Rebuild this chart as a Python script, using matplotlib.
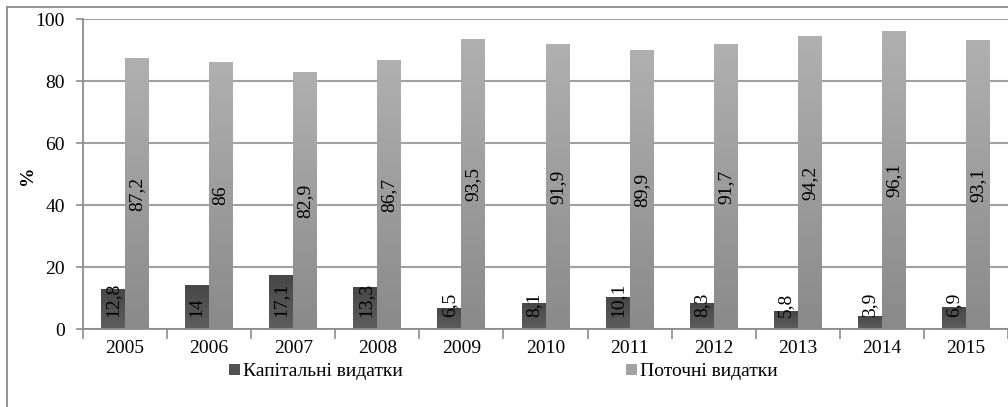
import numpy as np
import matplotlib
matplotlib.use("Agg")
import matplotlib.pyplot as plt
from matplotlib.patches import Patch
from matplotlib.lines import Line2D
from matplotlib.colors import LinearSegmentedColormap

plt.rcParams['font.family'] = ['Liberation Serif', 'DejaVu Serif']

# data
years = ['2005', '2006', '2007', '2008', '2009', '2010',
         '2011', '2012', '2013', '2014', '2015']
capital = [12.8, 14, 17.1, 13.3, 6.5, 8.1, 10.1, 8.3, 5.8, 3.9, 6.9]
current = [87.2, 86, 82.9, 86.7, 93.5, 91.9, 89.9, 91.7, 94.2, 96.1, 93.1]
series_names = ['Капітальні видатки', 'Поточні видатки']


def fmt(v):
    s = ('%g' % v)
    return s.replace('.', ',')


W, H = 1008, 407
fig = plt.figure(figsize=(W / 100, H / 100), dpi=100)

# outer chart frame (cut off on right and bottom)
fig.add_artist(Line2D([7 / W, 7 / W], [0, 1 - 7 / H], color='#8c8c8c', lw=1.3))
fig.add_artist(Line2D([7 / W, 1], [1 - 7 / H, 1 - 7 / H], color='#8c8c8c', lw=1.3))

left, right, top, bottom = 83, 1008, 19, 329
ax = fig.add_axes([left / W, 1 - bottom / H, (right - left) / W, (bottom - top) / H])

x = np.arange(len(years))
bw = 0.285
cap_bars = ax.bar(x - bw / 2, capital, bw, color='#505050', zorder=2)
cur_bars = ax.bar(x + bw / 2, current, bw, color='#9c9c9c', zorder=2)

# vertical gradient fill on each bar
cmap_cap = LinearSegmentedColormap.from_list('cap', ['#5e5e5e', '#474747'])
cmap_cur = LinearSegmentedColormap.from_list('cur', ['#8a8a8a', '#b0b0b0'])
grad = np.linspace(0, 1, 256).reshape(-1, 1)
for bars, cmap in ((cap_bars, cmap_cap), (cur_bars, cmap_cur)):
    for p in bars:
        bx, by = p.get_x(), p.get_y()
        ax.imshow(grad, cmap=cmap, aspect='auto', origin='lower',
                  extent=(bx, bx + p.get_width(), by, by + p.get_height()),
                  zorder=2.5, interpolation='bilinear')

# data labels
for i in range(len(years)):
    ax.text(x[i] - bw / 2, 3.8, fmt(capital[i]), rotation=90,
            ha='center', va='bottom', fontsize=14, zorder=4)
    ax.text(x[i] + bw / 2, current[i] / 2, fmt(current[i]), rotation=90,
            ha='center', va='center', fontsize=14, zorder=4)

ncat = (right - left) / 85.3
ax.set_xlim(-0.5, -0.5 + ncat)
ax.set_ylim(0, 100)

ax.set_yticks(np.arange(0, 101, 20))
ax.yaxis.grid(True, color='#a0a0a0', lw=1.5)
ax.set_axisbelow(True)
ax.tick_params(axis='y', length=5, width=1.2, color='#8c8c8c', labelsize=14, pad=8)

ax.set_xticks(np.arange(len(years) + 1) - 0.5)
ax.set_xticklabels([])
ax.set_xticks(x, minor=True)
ax.set_xticklabels(years, minor=True)
ax.tick_params(axis='x', which='major', length=7, width=1.2, color='#8c8c8c')
ax.tick_params(axis='x', which='minor', length=0, labelsize=14, pad=8)

for s in ('top', 'right'):
    ax.spines[s].set_visible(False)
for s in ('left', 'bottom'):
    ax.spines[s].set_color('#8c8c8c')
    ax.spines[s].set_linewidth(1.3)

fig.text(27 / W, 1 - 175 / H, '%', rotation=90, fontsize=14, fontweight='bold',
         ha='center', va='center')

handles = [Patch(facecolor='#525252', edgecolor='none'),
           Patch(facecolor='#a2a2a2', edgecolor='none')]
fig.legend(handles, series_names, loc='center left',
           bbox_to_anchor=(229 / W, 1 - 372 / H), ncol=2, frameon=False,
           fontsize=14, handlelength=0.55, handleheight=0.55,
           handletextpad=0.15, columnspacing=11.5, borderpad=0,
           borderaxespad=0)

fig.savefig('out.png', dpi=100)
